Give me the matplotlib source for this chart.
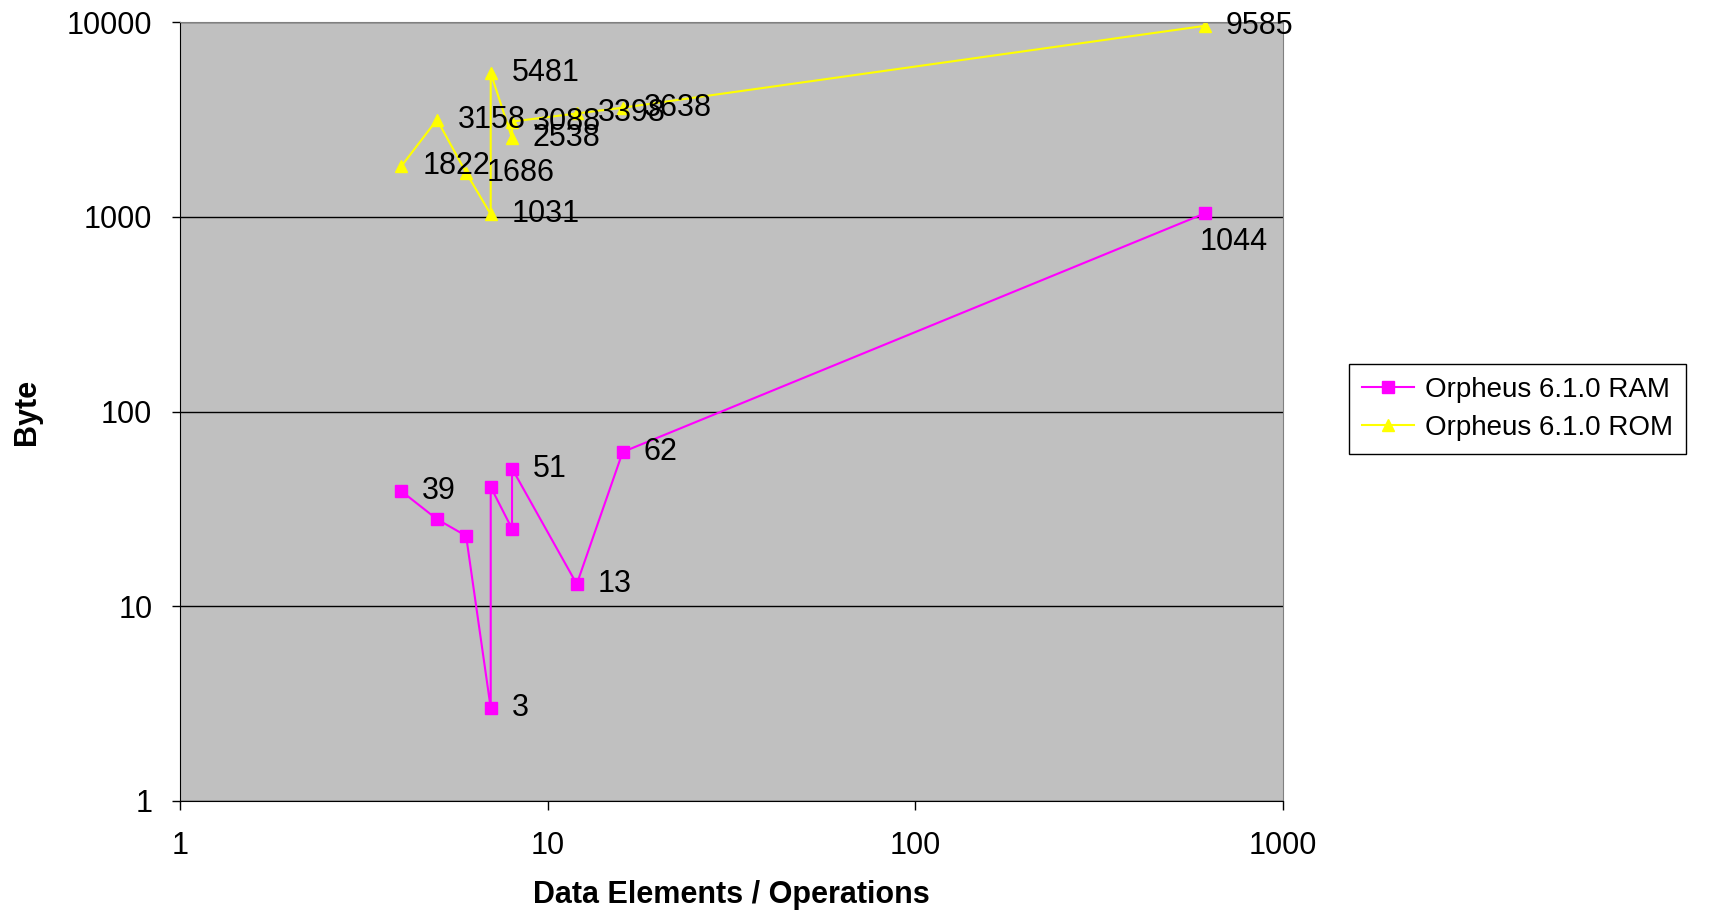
import matplotlib.pyplot as plt

plt.rcParams['font.family'] = ['Liberation Sans', 'DejaVu Sans']

# data
ram_x = [4, 5, 6, 7, 7, 8, 8, 12, 16, 615]
ram_y = [39, 28, 23, 3, 41, 25, 51, 13, 62, 1044]
ram_shown = [39, 3, 51, 13, 62]

rom_x = [4, 5, 6, 7, 7, 8, 8, 12, 16, 615]
rom_y = [1822, 3158, 1686, 1031, 5481, 2538, 3088, 3398, 3638, 9585]

fig = plt.figure(figsize=(17.15, 9.13), dpi=100)
ax = fig.add_axes([0.105, 0.1227, 0.643, 0.853])
ax.set_facecolor('#C0C0C0')

ax.plot(ram_x, ram_y, color='#FF00FF', lw=1.5, marker='s', ms=8,
        label='Orpheus 6.1.0 RAM')
ax.plot(rom_x, rom_y, color='#FFFF00', lw=1.5, marker='^', ms=9,
        label='Orpheus 6.1.0 ROM')

# data labels, to the right of the point
lab_size = 22
for x, y in zip(rom_x, rom_y):
    ax.annotate(str(y), (x, y), xytext=(15, 0), textcoords='offset points',
                va='center', ha='left', fontsize=lab_size)
for x, y in zip(ram_x, ram_y):
    if y in ram_shown:
        ax.annotate(str(y), (x, y), xytext=(15, 0), textcoords='offset points',
                    va='center', ha='left', fontsize=lab_size)
ax.annotate('1044', (ram_x[-1], ram_y[-1]), xytext=(-4, -21), textcoords='offset points',
            va='center', ha='left', fontsize=lab_size)

ax.set_xscale('log')
ax.set_yscale('log')
ax.set_xlim(1, 1000)
ax.set_ylim(1, 10000)
ax.set_xticks([1, 10, 100, 1000])
ax.set_xticklabels(['1', '10', '100', '1000'])
ax.set_yticks([1, 10, 100, 1000, 10000])
ax.set_yticklabels(['1', '10', '100', '1000', '10000'])
ax.minorticks_off()
ax.tick_params(labelsize=22, width=1, color='black')
ax.tick_params(axis='x', length=6.5, pad=15)
ax.tick_params(axis='y', length=6, pad=14)
ax.grid(axis='y', color='black', lw=1)
ax.set_axisbelow(True)

for s in ['top', 'right']:
    ax.spines[s].set_color('#808080')
for s in ['left', 'bottom']:
    ax.spines[s].set_color('black')

ax.set_xlabel('Data Elements / Operations', fontsize=22, fontweight='bold', va='center')
ax.xaxis.set_label_coords(0.5, -0.1207)
ax.set_ylabel('Byte', fontsize=22, fontweight='bold', va='center')
ax.yaxis.set_label_coords(-0.139, 0.5)

leg = fig.legend(loc='upper left', bbox_to_anchor=(0.7866, 0.6013), fontsize=20,
                 frameon=True, fancybox=False, edgecolor='black', framealpha=1,
                 borderaxespad=0, borderpad=0.45, handlelength=1.9,
                 handletextpad=0.4, labelspacing=0.45)
leg.get_frame().set_linewidth(1)

fig.savefig('out.png', dpi=100)
